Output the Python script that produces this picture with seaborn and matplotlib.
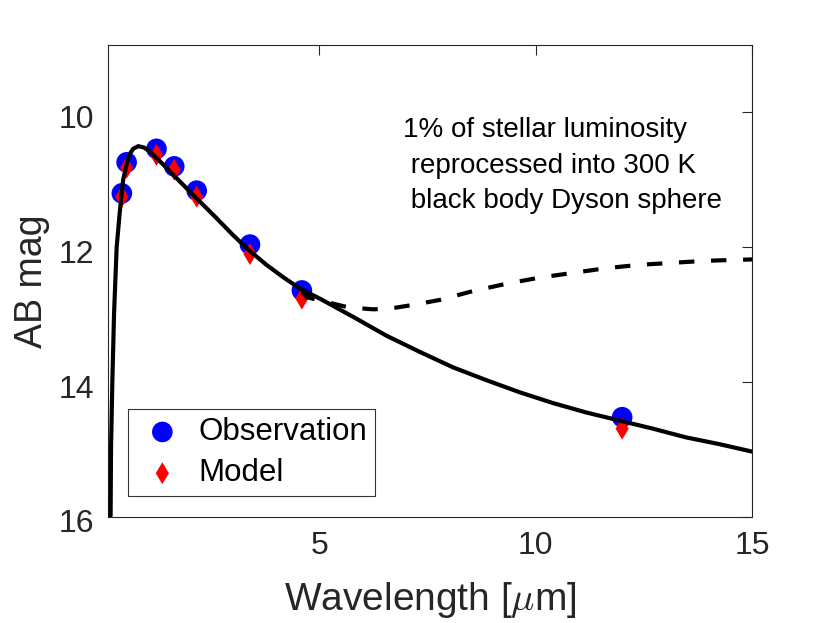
import numpy as np
import pandas as pd
import matplotlib
matplotlib.use("Agg")
import matplotlib.pyplot as plt
import matplotlib.transforms as mtransforms
import seaborn as sns

# ---- data ----
band_wavelength = [0.44, 0.55, 1.24, 1.65, 2.17, 3.40, 4.60, 12.0]
obs_mag = [11.20, 10.74, 10.54, 10.80, 11.16, 11.96, 12.64, 14.52]
model_mag = [11.25, 10.82, 10.63, 10.85, 11.25, 12.10, 12.76, 14.69]

star_wave = [0.18, 0.19, 0.22, 0.26, 0.32, 0.39, 0.47, 0.55, 0.62, 0.70, 0.82,
             0.95, 1.09, 1.47, 1.85, 2.24, 2.63, 3.01, 3.39, 3.78, 4.16, 4.55,
             5.01, 5.78, 6.55, 7.32, 8.09, 8.86, 9.63, 10.40, 11.17, 11.94,
             12.71, 13.48, 14.25, 15.0]
star_mag = [15.98, 14.97, 14.00, 12.98, 12.00, 11.49, 11.00, 10.77, 10.62, 10.54,
            10.50, 10.52, 10.58, 10.82, 11.07, 11.32, 11.57, 11.82, 12.05, 12.26,
            12.44, 12.61, 12.76, 13.03, 13.31, 13.55, 13.78, 13.97, 14.15, 14.31,
            14.45, 14.57, 14.69, 14.82, 14.92, 15.03]

dyson_wave = [4.60, 4.71, 5.09, 5.67, 6.24, 6.63, 7.21, 7.79, 8.55, 9.33, 10.09,
              10.86, 11.63, 12.40, 13.17, 13.94, 15.0]
dyson_mag = [12.66, 12.74, 12.80, 12.89, 12.92, 12.91, 12.85, 12.78, 12.65, 12.54,
             12.45, 12.38, 12.31, 12.26, 12.23, 12.20, 12.18]

x_ticks = [5, 10, 15]
y_ticks = [10, 12, 14, 16]
legend_labels = ["Observation", "Model"]
annotation = "1% of stellar luminosity\n reprocessed into 300 K\n black body Dyson sphere"

# ---- style ----
sns.set_style("white")
plt.rcParams["font.family"] = ["Liberation Sans", "DejaVu Sans"]
plt.rcParams["mathtext.fontset"] = "cm"
axcol = (0.15, 0.15, 0.15)

fig = plt.figure(figsize=(8.3, 6.23), dpi=100)
ax = fig.add_axes([108 / 830, (623 - 517) / 623, 644 / 830, 472 / 623])

pts = pd.DataFrame({"wave": band_wavelength, "obs": obs_mag, "model": model_mag})
star = pd.DataFrame({"wave": star_wave, "mag": star_mag})
dyson = pd.DataFrame({"wave": dyson_wave, "mag": dyson_mag})

sns.scatterplot(data=pts, x="wave", y="obs", ax=ax, marker="o", s=220,
                color="blue", edgecolor="none", label=legend_labels[0], zorder=2)
sns.scatterplot(data=pts, x="wave", y="model", ax=ax, marker="d", s=125,
                color="red", edgecolor="none", label=legend_labels[1], zorder=3)
sns.lineplot(data=star, x="wave", y="mag", ax=ax, sort=False, estimator=None,
             color="black", linewidth=3, zorder=4, legend=False)
sns.lineplot(data=dyson, x="wave", y="mag", ax=ax, sort=False, estimator=None,
             color="black", linewidth=3, zorder=4, legend=False,
             linestyle=(0, (3.7, 4.0)))

ax.set_xlim(0.12, 15)
ax.set_ylim(16, 9)
ax.set_xticks(x_ticks)
ax.set_yticks(y_ticks)
ax.tick_params(axis="both", direction="in", length=7, width=0.8, colors=axcol,
               labelsize=23, top=True, right=True, pad=10)
for sp in ax.spines.values():
    sp.set_color(axcol)
    sp.set_linewidth(0.8)
    sp.set_visible(True)

ax.set_xlabel(r"Wavelength [$\mu$m]", fontsize=28, color=axcol, labelpad=14)
ax.set_ylabel("AB mag", fontsize=27, color=axcol, labelpad=6)

ax.text(0.458, 0.847, annotation, transform=ax.transAxes, fontsize=20,
        ha="left", va="top", color="black", linespacing=1.47)

leg = ax.legend(loc="lower left", bbox_to_anchor=(0.031, 0.044),
                fontsize=22.5, frameon=True, fancybox=False, borderaxespad=0,
                borderpad=0.25, handlelength=1.7, handletextpad=0.3,
                labelspacing=0.36)
leg.get_frame().set_edgecolor("black")
leg.get_frame().set_linewidth(0.8)
for t in leg.get_texts():
    t.set_color("black")

offset = mtransforms.ScaledTranslation(0, -4 / 100, fig.dpi_scale_trans)
for lbl in ax.get_yticklabels():
    lbl.set_transform(lbl.get_transform() + offset)

fig.savefig("out.png", dpi=100)
